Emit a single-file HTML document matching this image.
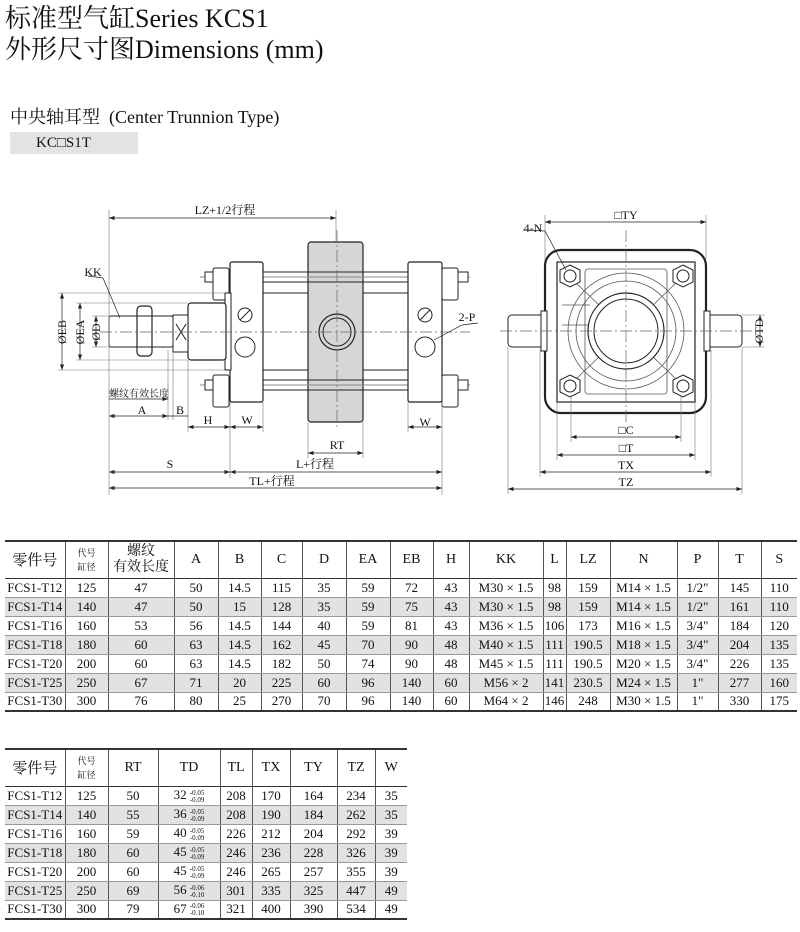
<!DOCTYPE html>
<html><head><meta charset="utf-8"><style>
body{margin:0;width:800px;height:932px;background:#fff;position:relative;overflow:hidden;font-family:"Liberation Serif","Noto Serif CJK SC",serif;color:#111}
.t{position:absolute;white-space:nowrap}
table{position:absolute;border-collapse:collapse;table-layout:fixed;font-family:"Liberation Serif","Noto Serif CJK SC",serif;font-size:13px}
td{border-left:1px solid #555;text-align:center;padding:0;overflow:hidden;white-space:nowrap}
td:first-child{border-left:none}
tr.h td{font-size:14px}
tr.g td{background:#e2e2e2}
table{border-top:2px solid #333;border-bottom:2px solid #333}
tr.h td{border-bottom:1px solid #333}
tr.r td{border-bottom:1px solid #999}
.sup{display:inline-block;vertical-align:middle;font-size:7px;line-height:7px;text-align:left}
.diag{position:relative;font-size:9px;line-height:14px}
</style></head><body>
<div class="t" style="left:5px;top:4px;font-size:26px;line-height:30px">标准型气缸Series KCS1</div>
<div class="t" style="left:5px;top:35px;font-size:26px;line-height:30px">外形尺寸图Dimensions (mm)</div>
<div class="t" style="left:10px;top:106px;font-size:18px;line-height:22px">中央轴耳型&nbsp; (Center Trunnion Type)</div>
<div class="t" style="left:10px;top:132px;width:128px;height:22px;background:#e3e3e3;font-size:15px;line-height:22px;padding-left:26px;box-sizing:border-box">KC□S1T</div>

<svg width="800" height="932" style="position:absolute;left:0;top:0" font-family="Liberation Serif,Noto Serif CJK SC,serif" font-size="11">
<defs><marker id="a" markerWidth="8" markerHeight="6" refX="8" refY="3" orient="auto-start-reverse"><path d="M0,0L8,3L0,6z" fill="#222"/></marker></defs>
<g stroke="#222" fill="none" stroke-width="1">
<!-- left view -->
<rect x="308" y="242" width="55" height="180" rx="3" fill="#d6d6d6" stroke-width="1.2"/>
<line x1="263" y1="293" x2="308" y2="293"/><line x1="263" y1="370" x2="308" y2="370"/>
<line x1="363" y1="293" x2="408" y2="293"/><line x1="363" y1="370" x2="408" y2="370"/>
<line x1="200" y1="277" x2="470" y2="277" stroke="#888"/><line x1="263" y1="282" x2="408" y2="282"/><line x1="263" y1="272" x2="408" y2="272"/>
<line x1="200" y1="385" x2="470" y2="385" stroke="#888"/><line x1="263" y1="380" x2="408" y2="380"/><line x1="263" y1="390" x2="408" y2="390"/>
<rect x="230" y="262" width="33" height="140" rx="2" fill="#fff" stroke-width="1.2"/>
<rect x="408" y="262" width="34" height="140" rx="2" fill="#fff" stroke-width="1.2"/>
<rect x="213" y="268" width="16" height="32" rx="2" fill="#fff"/><rect x="205" y="272" width="8" height="10" fill="#fff"/>
<rect x="213" y="375" width="16" height="32" rx="2" fill="#fff"/><rect x="205" y="380" width="8" height="10" fill="#fff"/>
<rect x="442" y="268" width="16" height="32" rx="2" fill="#fff"/><rect x="458" y="272" width="10" height="10" fill="#fff"/>
<rect x="442" y="375" width="16" height="32" rx="2" fill="#fff"/><rect x="458" y="380" width="10" height="10" fill="#fff"/>
<rect x="225" y="293" width="6" height="77" fill="#fff"/>
<rect x="188" y="303" width="38" height="57" rx="3" fill="#fff" stroke-width="1.2"/>
<rect x="173" y="315" width="15" height="37" fill="#fff"/>
<line x1="176" y1="324" x2="186" y2="340"/><line x1="186" y1="324" x2="176" y2="340"/>
<rect x="109" y="316" width="64" height="31" rx="2" fill="#fff"/>
<rect x="137" y="306" width="15" height="50" rx="4" fill="#fff" stroke-width="1.2"/>
<line x1="137" y1="316" x2="152" y2="316"/><line x1="137" y1="347" x2="152" y2="347"/>
<circle cx="337" cy="332" r="18" stroke-width="1.2"/><circle cx="337" cy="332" r="14"/>
<circle cx="245" cy="347" r="10"/><circle cx="245" cy="315" r="7"/><line x1="240" y1="320" x2="250" y2="310"/>
<circle cx="425" cy="347" r="10"/><circle cx="425" cy="315" r="7"/><line x1="420" y1="320" x2="430" y2="310"/>
<line x1="100" y1="332" x2="470" y2="332" stroke="#666" stroke-dasharray="12,3,2,3" stroke-width="0.7"/>
<line x1="337" y1="230" x2="337" y2="430" stroke="#666" stroke-dasharray="12,3,2,3" stroke-width="0.7"/>
<!-- extension lines -->
<g stroke="#777" stroke-width="0.6">
<line x1="109" y1="210" x2="109" y2="495"/><line x1="336" y1="210" x2="336" y2="242"/>
<line x1="58" y1="293" x2="225" y2="293"/><line x1="58" y1="370" x2="225" y2="370"/>
<line x1="76" y1="303" x2="188" y2="303"/><line x1="76" y1="360" x2="188" y2="360"/>
<line x1="92" y1="316" x2="109" y2="316"/><line x1="92" y1="347" x2="109" y2="347"/>
<line x1="168" y1="350" x2="168" y2="420"/><line x1="173" y1="352" x2="173" y2="420"/><line x1="188" y1="360" x2="188" y2="432"/>
<line x1="230" y1="402" x2="230" y2="478"/><line x1="263" y1="402" x2="263" y2="432"/>
<line x1="408" y1="402" x2="408" y2="432"/><line x1="442" y1="402" x2="442" y2="495"/>
<line x1="308" y1="422" x2="308" y2="458"/><line x1="363" y1="422" x2="363" y2="458"/>
</g>
<g stroke-width="0.7">
<line x1="109" y1="218" x2="336" y2="218" marker-start="url(#a)" marker-end="url(#a)"/>
<line x1="62" y1="293" x2="62" y2="370" marker-start="url(#a)" marker-end="url(#a)"/>
<line x1="80" y1="303" x2="80" y2="360" marker-start="url(#a)" marker-end="url(#a)"/>
<line x1="96" y1="316" x2="96" y2="347" marker-start="url(#a)" marker-end="url(#a)"/>
<line x1="109" y1="399" x2="168" y2="399" marker-end="url(#a)"/>
<line x1="109" y1="416" x2="168" y2="416" marker-start="url(#a)" marker-end="url(#a)"/>
<line x1="168" y1="416" x2="188" y2="416"/>
<line x1="188" y1="427" x2="230" y2="427" marker-start="url(#a)" marker-end="url(#a)"/>
<line x1="230" y1="427" x2="263" y2="427" marker-start="url(#a)" marker-end="url(#a)"/>
<line x1="408" y1="427" x2="442" y2="427" marker-start="url(#a)" marker-end="url(#a)"/>
<line x1="308" y1="453" x2="363" y2="453" marker-start="url(#a)" marker-end="url(#a)"/>
<line x1="109" y1="472" x2="230" y2="472" marker-start="url(#a)" marker-end="url(#a)"/>
<line x1="230" y1="472" x2="442" y2="472" marker-start="url(#a)" marker-end="url(#a)"/>
<line x1="109" y1="488" x2="442" y2="488" marker-start="url(#a)" marker-end="url(#a)"/>
<polyline points="88,276 103,278 120,318"/>
<polyline points="478,323 462,325 434,340"/>
</g>
<!-- right view -->
<rect x="545" y="250" width="161" height="163" rx="16" fill="#fff" stroke-width="2.2"/>
<rect x="557" y="262" width="138" height="140" fill="#fff" stroke-width="1.2"/>
<rect x="508" y="315" width="37" height="32" rx="4" fill="#fff"/><rect x="541" y="311" width="6" height="40" fill="#fff"/>
<rect x="706" y="315" width="36" height="32" rx="4" fill="#fff"/><rect x="704" y="311" width="6" height="40" fill="#fff"/>
<g stroke="#555" stroke-width="0.8">
<rect x="585" y="269" width="82" height="125" rx="3"/>
<circle cx="626" cy="331" r="58"/><circle cx="626" cy="331" r="50"/>
<line x1="575" y1="282" x2="602" y2="308"/><line x1="677" y1="282" x2="650" y2="308"/>
<line x1="575" y1="380" x2="602" y2="354"/><line x1="677" y1="380" x2="650" y2="354"/>
<line x1="562" y1="305" x2="590" y2="305"/><line x1="562" y1="325" x2="590" y2="325"/>
</g>
<circle cx="626" cy="331" r="38" fill="#fff" stroke-width="1.2"/><circle cx="626" cy="331" r="32"/>
<g fill="#fff">
<polygon points="570,265 580,270 580,282 570,287 560,282 560,270"/><circle cx="570" cy="276" r="6"/>
<polygon points="683,265 693,270 693,282 683,287 673,282 673,270"/><circle cx="683" cy="276" r="6"/>
<polygon points="570,375 580,380 580,392 570,397 560,392 560,380"/><circle cx="570" cy="386" r="6"/>
<polygon points="683,375 693,380 693,392 683,397 673,392 673,380"/><circle cx="683" cy="386" r="6"/>
</g>
<line x1="500" y1="331" x2="760" y2="331" stroke="#666" stroke-dasharray="12,3,2,3" stroke-width="0.7"/>
<line x1="626" y1="230" x2="626" y2="425" stroke="#666" stroke-dasharray="12,3,2,3" stroke-width="0.7"/>
<g stroke="#777" stroke-width="0.6">
<line x1="545" y1="215" x2="545" y2="260"/><line x1="706" y1="215" x2="706" y2="260"/>
<line x1="571" y1="395" x2="571" y2="442"/><line x1="681" y1="395" x2="681" y2="442"/>
<line x1="557" y1="402" x2="557" y2="460"/><line x1="695" y1="402" x2="695" y2="460"/>
<line x1="540" y1="350" x2="540" y2="477"/><line x1="711" y1="350" x2="711" y2="477"/>
<line x1="508" y1="347" x2="508" y2="494"/><line x1="742" y1="347" x2="742" y2="494"/>
<line x1="742" y1="315" x2="765" y2="315"/><line x1="742" y1="347" x2="765" y2="347"/>
</g>
<g stroke-width="0.7">
<line x1="545" y1="222" x2="706" y2="222" marker-start="url(#a)" marker-end="url(#a)"/>
<line x1="571" y1="437" x2="681" y2="437" marker-start="url(#a)" marker-end="url(#a)"/>
<line x1="557" y1="455" x2="695" y2="455" marker-start="url(#a)" marker-end="url(#a)"/>
<line x1="540" y1="472" x2="711" y2="472" marker-start="url(#a)" marker-end="url(#a)"/>
<line x1="508" y1="489" x2="742" y2="489" marker-start="url(#a)" marker-end="url(#a)"/>
<line x1="760" y1="315" x2="760" y2="347" marker-start="url(#a)" marker-end="url(#a)"/>
<polyline points="523,230 545,231 566,270"/>
</g>
</g>
<g fill="#111" font-size="12" text-anchor="middle">
<text x="225" y="214">LZ+1/2行程</text>
<text x="93" y="276">KK</text>
<text x="467" y="321">2-P</text>
<text transform="translate(66,332) rotate(-90)">ØEB</text>
<text transform="translate(84,332) rotate(-90)">ØEA</text>
<text transform="translate(100,332) rotate(-90)">ØD</text>
<text x="139" y="397" font-size="10">螺纹有效长度</text>
<text x="142" y="414">A</text><text x="180" y="414">B</text>
<text x="208" y="424">H</text><text x="247" y="424">W</text><text x="425" y="426">W</text>
<text x="337" y="449">RT</text>
<text x="170" y="468">S</text><text x="315" y="468">L+行程</text>
<text x="272" y="485">TL+行程</text>
<text x="626" y="219">□TY</text>
<text x="533" y="232">4-N</text>
<text x="626" y="434">□C</text><text x="626" y="452">□T</text>
<text x="626" y="469">TX</text><text x="626" y="486">TZ</text>
<text transform="translate(763,331) rotate(-90)">ØTD</text>
</g>
</svg>

<table style="left:5px;top:540px;width:787px">
<colgroup><col style="width:60px"><col style="width:43px"><col style="width:66px"><col style="width:44px"><col style="width:43px"><col style="width:41px"><col style="width:44px"><col style="width:44px"><col style="width:43px"><col style="width:36px"><col style="width:74px"><col style="width:23px"><col style="width:44px"><col style="width:67px"><col style="width:41px"><col style="width:43px"><col style="width:36px"></colgroup>
<tr class="h" style="height:37px"><td style="font-size:15px">零件号</td><td><div class="diag">代号<br>缸径</div></td><td style="line-height:16px">螺纹<br>有效长度</td><td>A</td><td>B</td><td>C</td><td>D</td><td>EA</td><td>EB</td><td>H</td><td>KK</td><td>L</td><td>LZ</td><td>N</td><td>P</td><td>T</td><td>S</td></tr>
<tr class="r" style="height:19px"><td>FCS1-T12</td><td>125</td><td>47</td><td>50</td><td>14.5</td><td>115</td><td>35</td><td>59</td><td>72</td><td>43</td><td>M30 × 1.5</td><td>98</td><td>159</td><td>M14 × 1.5</td><td>1/2"</td><td>145</td><td>110</td></tr>
<tr class="r g" style="height:19px"><td>FCS1-T14</td><td>140</td><td>47</td><td>50</td><td>15</td><td>128</td><td>35</td><td>59</td><td>75</td><td>43</td><td>M30 × 1.5</td><td>98</td><td>159</td><td>M14 × 1.5</td><td>1/2"</td><td>161</td><td>110</td></tr>
<tr class="r" style="height:19px"><td>FCS1-T16</td><td>160</td><td>53</td><td>56</td><td>14.5</td><td>144</td><td>40</td><td>59</td><td>81</td><td>43</td><td>M36 × 1.5</td><td>106</td><td>173</td><td>M16 × 1.5</td><td>3/4"</td><td>184</td><td>120</td></tr>
<tr class="r g" style="height:19px"><td>FCS1-T18</td><td>180</td><td>60</td><td>63</td><td>14.5</td><td>162</td><td>45</td><td>70</td><td>90</td><td>48</td><td>M40 × 1.5</td><td>111</td><td>190.5</td><td>M18 × 1.5</td><td>3/4"</td><td>204</td><td>135</td></tr>
<tr class="r" style="height:19px"><td>FCS1-T20</td><td>200</td><td>60</td><td>63</td><td>14.5</td><td>182</td><td>50</td><td>74</td><td>90</td><td>48</td><td>M45 × 1.5</td><td>111</td><td>190.5</td><td>M20 × 1.5</td><td>3/4"</td><td>226</td><td>135</td></tr>
<tr class="r g" style="height:19px"><td>FCS1-T25</td><td>250</td><td>67</td><td>71</td><td>20</td><td>225</td><td>60</td><td>96</td><td>140</td><td>60</td><td>M56 × 2</td><td>141</td><td>230.5</td><td>M24 × 1.5</td><td>1"</td><td>277</td><td>160</td></tr>
<tr style="height:19px"><td>FCS1-T30</td><td>300</td><td>76</td><td>80</td><td>25</td><td>270</td><td>70</td><td>96</td><td>140</td><td>60</td><td>M64 × 2</td><td>146</td><td>248</td><td>M30 × 1.5</td><td>1"</td><td>330</td><td>175</td></tr>
</table>

<table style="left:5px;top:748px;width:402px">
<colgroup><col style="width:60px"><col style="width:43px"><col style="width:50px"><col style="width:62px"><col style="width:32px"><col style="width:38px"><col style="width:47px"><col style="width:38px"><col style="width:32px"></colgroup>
<tr class="h" style="height:37px"><td style="font-size:15px">零件号</td><td><div class="diag">代号<br>缸径</div></td><td>RT</td><td>TD</td><td>TL</td><td>TX</td><td>TY</td><td>TZ</td><td>W</td></tr>
<tr class="r" style="height:19px"><td>FCS1-T12</td><td>125</td><td>50</td><td>32 <span class="sup">-0.05<br>-0.09</span></td><td>208</td><td>170</td><td>164</td><td>234</td><td>35</td></tr>
<tr class="r g" style="height:19px"><td>FCS1-T14</td><td>140</td><td>55</td><td>36 <span class="sup">-0.05<br>-0.09</span></td><td>208</td><td>190</td><td>184</td><td>262</td><td>35</td></tr>
<tr class="r" style="height:19px"><td>FCS1-T16</td><td>160</td><td>59</td><td>40 <span class="sup">-0.05<br>-0.09</span></td><td>226</td><td>212</td><td>204</td><td>292</td><td>39</td></tr>
<tr class="r g" style="height:19px"><td>FCS1-T18</td><td>180</td><td>60</td><td>45 <span class="sup">-0.05<br>-0.09</span></td><td>246</td><td>236</td><td>228</td><td>326</td><td>39</td></tr>
<tr class="r" style="height:19px"><td>FCS1-T20</td><td>200</td><td>60</td><td>45 <span class="sup">-0.05<br>-0.09</span></td><td>246</td><td>265</td><td>257</td><td>355</td><td>39</td></tr>
<tr class="r g" style="height:19px"><td>FCS1-T25</td><td>250</td><td>69</td><td>56 <span class="sup">-0.06<br>-0.10</span></td><td>301</td><td>335</td><td>325</td><td>447</td><td>49</td></tr>
<tr style="height:19px"><td>FCS1-T30</td><td>300</td><td>79</td><td>67 <span class="sup">-0.06<br>-0.10</span></td><td>321</td><td>400</td><td>390</td><td>534</td><td>49</td></tr>
</table>
</body></html>
